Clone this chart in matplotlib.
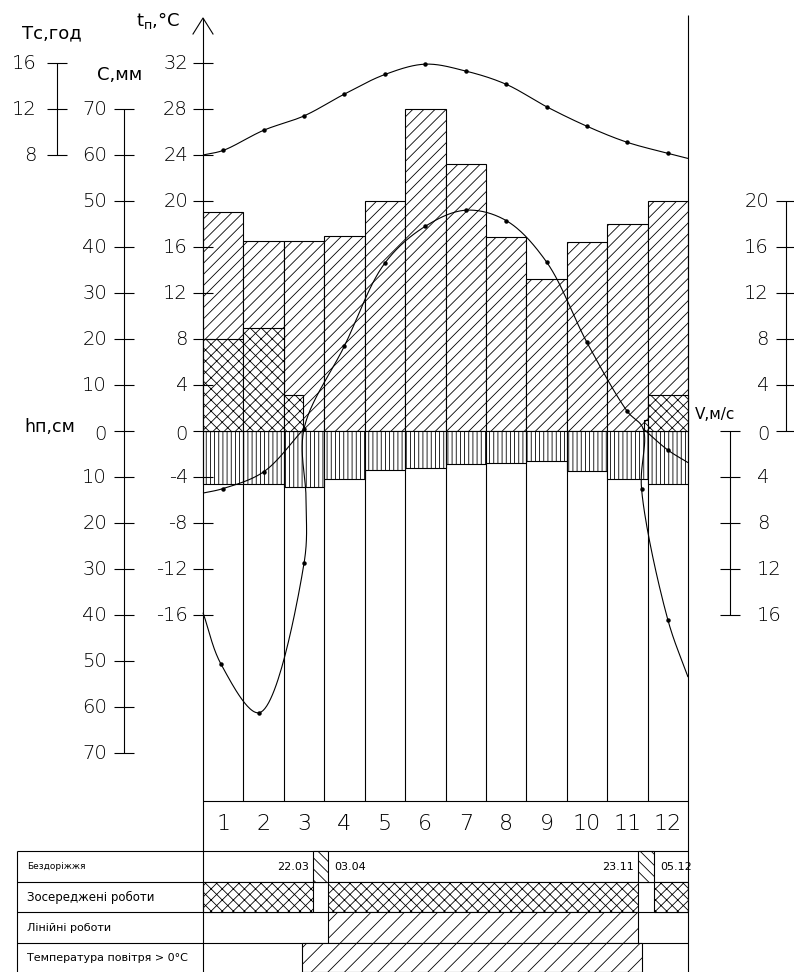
import numpy as np
import matplotlib
matplotlib.use('Agg')
import matplotlib.pyplot as plt

plt.rcParams['font.family'] = ['DejaVu Sans']
plt.rcParams['hatch.linewidth'] = 0.6

# ---- data ----
months = ['1', '2', '3', '4', '5', '6', '7', '8', '9', '10', '11', '12']
precip_mm = [47.5, 41.3, 41.3, 42.4, 50.0, 70.0, 58.0, 42.2, 33.0, 41.0, 45.0, 50.0]
wind_ms = [4.6, 4.6, 4.9, 4.2, 3.4, 3.2, 2.9, 2.8, 2.6, 3.5, 4.2, 4.6]
cross_vals = [8.0, 9.0, 3.1, 0, 0, 0, 0, 0, 0, 0, 1.0, 3.1]
cross_start = [0, 0, 0, 0, 0, 0, 0, 0, 0, 0, 0.9, 0]
cross_width = [1, 1, 0.47, 1, 1, 1, 1, 1, 1, 1, 0.1, 1]
daylight_h = [8.4, 10.15, 11.4, 13.3, 15.0, 15.9, 15.3, 14.15, 12.2, 10.5, 9.1, 8.15]
daylight_ends = (8.0, 7.7)

# air temperature curve (x in months from 1 Jan)
temp_x = [0.0, 0.45, 1.39, 2.5, 2.55, 2.5, 3.5, 4.5, 5.5, 6.5, 7.5, 8.5, 9.5, 10.5, 10.89, 10.85, 11.5, 12.0]
temp_t = [-15.8, -20.3, -24.5, -11.5, -6.0, 0.2, 7.4, 14.6, 17.8, 19.2, 18.3, 14.7, 7.7, 1.7, 0.2, -5.0, -16.4, -21.4]
temp_dot = [0, 1, 1, 1, 0, 1, 1, 1, 1, 1, 1, 1, 1, 1, 0, 1, 1, 0]
# shallow winter branch
soil_left_x = [0.0, 0.5, 1.5, 2.5]
soil_left_t = [-5.4, -5.0, -3.55, 0.2]
soil_right_x = [10.89, 11.5, 12.0]
soil_right_t = [0.2, -1.65, -2.75]

t_ticks = [32, 28, 24, 20, 16, 12, 8, 4, 0, -4, -8, -12, -16]
c_ticks = [70, 60, 50, 40, 30, 20, 10, 0]
h_ticks = [10, 20, 30, 40, 50, 60, 70]
tc_ticks = [16, 12, 8]
v_up_ticks = [20, 16, 12, 8, 4]
v_low_ticks = [0, 4, 8, 12, 16]

mud_periods = [('22.03', '03.04'), ('23.11', '05.12')]
warm_period = ('14.03', '26.11')
row_names = ['Бездоріжжя', 'Зосереджені роботи', 'Лінійні роботи', 'Температура повітря > 0°C']
days_in = [31, 28, 31, 30, 31, 30, 31, 31, 30, 31, 30, 31]

# ---- layout (pixels of the 794x972 sheet) ----
X0, X1, Y0 = 203, 688, 431
PX_M = (X1 - X0) / 12
PX_T = 11.5


def fx(px):
    return (px - X0) / PX_M


def fy(py):
    return (Y0 - py) / PX_T


def d2m(s):
    d, m = [int(v) for v in s.split('.')]
    return m - 1 + d / days_in[m - 1]


def spline(xs, ys, n=30):
    # centripetal catmull-rom, worked out in pixel space
    P = np.column_stack([np.array(xs) * PX_M, np.array(ys) * PX_T])
    P = np.vstack([2 * P[0] - P[1], P, 2 * P[-1] - P[-2]])
    out = []
    for i in range(1, len(P) - 2):
        p0, p1, p2, p3 = P[i - 1], P[i], P[i + 1], P[i + 2]
        t0 = 0
        t1 = t0 + np.linalg.norm(p1 - p0) ** 0.5
        t2 = t1 + np.linalg.norm(p2 - p1) ** 0.5
        t3 = t2 + np.linalg.norm(p3 - p2) ** 0.5
        t = np.linspace(t1, t2, n)[:, None]
        a1 = (t1 - t) / (t1 - t0) * p0 + (t - t0) / (t1 - t0) * p1
        a2 = (t2 - t) / (t2 - t1) * p1 + (t - t1) / (t2 - t1) * p2
        a3 = (t3 - t) / (t3 - t2) * p2 + (t - t2) / (t3 - t2) * p3
        b1 = (t2 - t) / (t2 - t0) * a1 + (t - t0) / (t2 - t0) * a2
        b2 = (t3 - t) / (t3 - t1) * a2 + (t - t1) / (t3 - t1) * a3
        c = (t2 - t) / (t2 - t1) * b1 + (t - t1) / (t2 - t1) * b2
        out.append(c)
    out = np.vstack(out)
    return out[:, 0] / PX_M, out[:, 1] / PX_T


fig = plt.figure(figsize=(7.94, 9.72), dpi=100)
ax = fig.add_axes([0, 0, 1, 1])
ax.set_xlim(fx(0), fx(794))
ax.set_ylim(fy(972), fy(0))
ax.axis('off')

LW = 0.8
K = dict(color='black', lw=LW, solid_capstyle='butt')
NUM = dict(fontsize=14, fontweight='light')

# bars
xm = np.arange(12)
ax.bar(xm, np.array(precip_mm) * 0.4, width=1, align='edge', facecolor='white',
       edgecolor='black', hatch='///', lw=LW, zorder=2)
ax.bar(xm, -np.array(wind_ms), width=1, align='edge', facecolor='white',
       edgecolor='black', hatch='||||', lw=LW, zorder=2)
for i in range(12):
    if cross_vals[i] > 0:
        ax.bar(i + cross_start[i], cross_vals[i], width=cross_width[i], align='edge',
               facecolor='white', edgecolor='black', hatch='xxx', lw=LW, zorder=3)

# column lines down to the month row
ax.vlines(np.arange(1, 12), fy(801), 0, colors='black', lw=LW, zorder=1)

# curves
dl_x = [0] + [i + 0.5 for i in range(12)] + [12]
dl_t = [daylight_ends[0] + 16] + [v + 16 for v in daylight_h] + [daylight_ends[1] + 16]
sx, sy = spline(dl_x, dl_t)
ax.plot(sx, sy, **K, zorder=5)
ax.plot(dl_x[1:-1], dl_t[1:-1], 'o', color='black', ms=2.2, zorder=5)

sx, sy = spline(temp_x, temp_t)
ax.plot(sx, sy, **K, zorder=5)
dots = [i for i in range(len(temp_x)) if temp_dot[i]]
ax.plot([temp_x[i] for i in dots], [temp_t[i] for i in dots], 'o', color='black', ms=2.2, zorder=5)

for cx, ct in [(soil_left_x, soil_left_t), (soil_right_x, soil_right_t)]:
    sx, sy = spline(cx, ct)
    ax.plot(sx, sy, **K, zorder=5)
    ax.plot(cx[1:-1], ct[1:-1], 'o', color='black', ms=2.2, zorder=5)

# main t axis with arrow
ax.plot([0, 0], [fy(972), fy(18)], **K, zorder=6)
ax.plot([fx(193), 0, fx(213)], [fy(34), fy(18), fy(34)], color='black', lw=LW, zorder=6)
for t in t_ticks:
    ax.plot([fx(193), fx(213)], [t, t], **K, zorder=6)
    ax.text(fx(188), t - (0.3 if t == 0 else 0), str(t), ha='right', va='center', **NUM)
ax.text(fx(158), fy(20), r'$\mathregular{t_п}$,°C', ha='center', va='center', fontsize=13)

# right border
ax.plot([12, 12], [fy(972), fy(15)], **K, zorder=6)

# C / h axis
cx_ = fx(124)
ax.plot([cx_, cx_], [70 * 0.4, -70 * 0.4], **K)
for c in c_ticks:
    ax.plot([fx(114), fx(134)], [c * 0.4] * 2, **K)
    ax.text(fx(107), c * 0.4 - (0.3 if c == 0 else 0), str(c), ha='right', va='center', **NUM)
for h in h_ticks:
    ax.plot([fx(114), fx(134)], [-h * 0.4] * 2, **K)
    ax.text(fx(107), -h * 0.4, str(h), ha='right', va='center', **NUM)
ax.text(fx(120), fy(75), 'С,мм', ha='center', va='center', fontsize=13)
ax.text(fx(50), fy(427), 'hп,см', ha='center', va='center', fontsize=12.5)

# T_c axis
tx_ = fx(57)
ax.plot([tx_, tx_], [tc_ticks[-1] + 16, tc_ticks[0] + 16], **K)
for v in tc_ticks:
    ax.plot([fx(47), fx(67)], [v + 16] * 2, **K)
    ax.text(fx(37), v + 16, str(v), ha='right', va='center', **NUM)
ax.text(fx(52), fy(33), 'Тс,год', ha='center', va='center', fontsize=13)

# right V axes
ux = fx(786)
ax.plot([ux, ux], [0, 20], **K)
ax.plot([fx(776), fx(796)], [0, 0], **K)
for v in v_up_ticks:
    ax.plot([fx(776), fx(796)], [v, v], **K)
    ax.text(fx(769), v, str(v), ha='right', va='center', **NUM)
lx = fx(730)
ax.plot([lx, lx], [0, -16], **K)
for v in v_low_ticks:
    ax.plot([fx(720), fx(740)], [-v, -v], **K)
    ax.text(fx(757), -v - (0.3 if v == 0 else 0), str(v), ha='left', va='center', **NUM)
ax.text(fx(695), fy(414), 'V,м/с', ha='left', va='center', fontsize=11)

# ---- table under the chart ----
rows_px = [801, 851, 882, 912, 943, 972]
ax.plot([0, 12], [fy(801)] * 2, **K)
for py in rows_px[1:-1]:
    ax.plot([fx(17), 12], [fy(py)] * 2, **K)
ax.plot([fx(17), fx(17)], [fy(851), fy(972)], **K)

for i, m in enumerate(months):
    ax.text(i + 0.5, fy(824), m, ha='center', va='center', fontsize=16, fontweight='light')

name_sizes = [6.5, 8.5, 8, 8]
for k, name in enumerate(row_names):
    ymid = (fy(rows_px[k + 1]) + fy(rows_px[k + 2])) / 2
    ax.text(fx(27), ymid, name, ha='left', va='center', fontsize=name_sizes[k])


def row_bar(k, a, b, hatch):
    lo, hi = fy(rows_px[k + 2]), fy(rows_px[k + 1])
    ax.bar(a, hi - lo, width=b - a, bottom=lo, align='edge', facecolor='white',
           edgecolor='black', hatch=hatch, lw=LW, zorder=2)


mud = [(d2m(a), d2m(b)) for a, b in mud_periods]
for (a, b), (sa, sb) in zip(mud, mud_periods):
    row_bar(0, a, b, '\\\\\\')
    ymid = (fy(851) + fy(882)) / 2
    ax.text(a - fx(203 + 4), ymid, sa, ha='right', va='center', fontsize=8)
    ax.text(b + fx(203 + 6), ymid, sb, ha='left', va='center', fontsize=8)

for a, b in [(0, mud[0][0]), (mud[0][1], mud[1][0]), (mud[1][1], 12)]:
    row_bar(1, a, b, 'xxx')
row_bar(2, mud[0][1], mud[1][0], '//')
row_bar(3, d2m(warm_period[0]), d2m(warm_period[1]), '//')

fig.savefig('out.png', dpi=100, facecolor='white')
